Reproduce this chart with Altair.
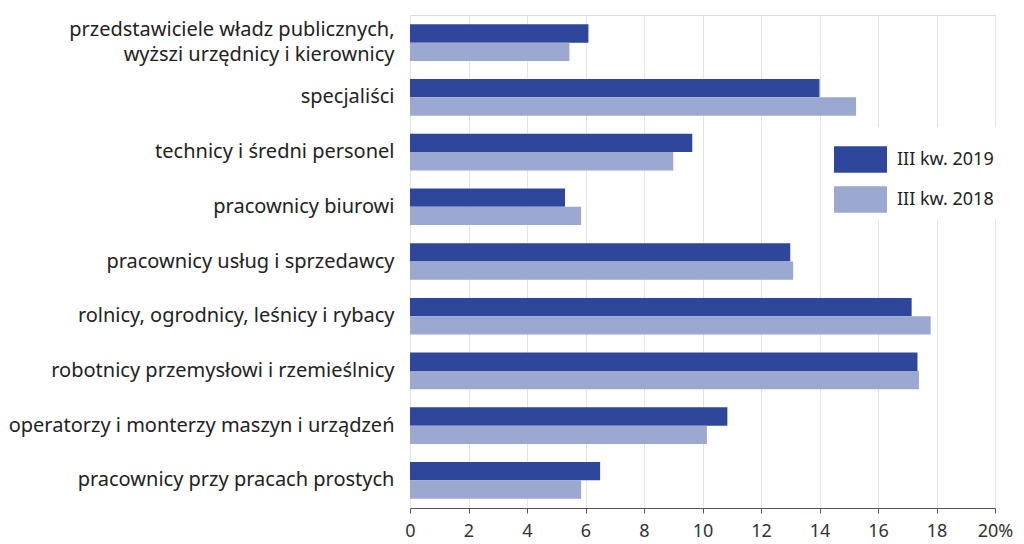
import altair as alt
import pandas as pd

categories = [
    "przedstawiciele władz publicznych,|wyższi urzędnicy i kierownicy",
    "specjaliści",
    "technicy i średni personel",
    "pracownicy biurowi",
    "pracownicy usług i sprzedawcy",
    "rolnicy, ogrodnicy, leśnicy i rybacy",
    "robotnicy przemysłowi i rzemieślnicy",
    "operatorzy i monterzy maszyn i urządzeń",
    "pracownicy przy pracach prostych",
]
series = ["III kw. 2019", "III kw. 2018"]
values_2019 = [6.1, 14.0, 9.65, 5.3, 13.0, 17.15, 17.35, 10.85, 6.5]
values_2018 = [5.45, 15.25, 9.0, 5.85, 13.1, 17.8, 17.4, 10.15, 5.85]
colors = ["#2E479B", "#9BA8CF"]
x_ticks = [0, 2, 4, 6, 8, 10, 12, 14, 16, 18, 20]

rows = []
for c, v in zip(categories, values_2019):
    rows.append({"kat": c, "seria": series[0], "wartosc": v})
for c, v in zip(categories, values_2018):
    rows.append({"kat": c, "seria": series[1], "wartosc": v})
df = pd.DataFrame(rows)

FONT = "Noto Sans"

chart = alt.Chart(df).mark_bar().encode(
    y=alt.Y("kat:N", sort=categories, title=None,
            scale=alt.Scale(paddingInner=0.33, paddingOuter=0.17),
            axis=alt.Axis(domain=False, ticks=False, labelPadding=16,
                          labelExpr="split(datum.label, '|')",
                          labelOffset={"condition": {"test": "indexof(datum.value, '|') >= 0", "value": -12.5},
                                       "value": 0},
                          labelFontSize=20, labelColor="#222222",
                          labelFont=FONT, labelLimit=500, labelLineHeight=25)),
    yOffset=alt.YOffset("seria:N", sort=series,
                        scale=alt.Scale(paddingInner=0, paddingOuter=0)),
    x=alt.X("wartosc:Q", title=None,
            scale=alt.Scale(domain=[0, 20], nice=False),
            axis=alt.Axis(values=x_ticks, grid=True, gridColor="#e4e4e4",
                          domainColor="#555555", tickColor="#555555", tickSize=5,
                          labelFontSize=18, labelColor="#333333", labelFont=FONT,
                          labelPadding=9, labelFlush=False,
                          labelExpr="datum.value == 20 ? '20%' : datum.label")),
    color=alt.Color("seria:N", sort=series,
                    scale=alt.Scale(domain=series, range=colors),
                    legend=alt.Legend(title=None, orient="none", legendX=418, legendY=112,
                                      symbolType="M-1,-0.5H1V0.5H-1Z", symbolSize=2809,
                                      symbolStrokeWidth=0, symbolOpacity=1,
                                      labelFontSize=18, labelFont=FONT, labelColor="#222222",
                                      rowPadding=0, labelOffset=10,
                                      fillColor="white", padding=6)),
).properties(
    width=585, height=493,
    padding={"left": 0, "top": 7, "right": 2, "bottom": 5},
).configure_view(stroke=None).configure(background="white")

chart.save("out.html", embed_options={"renderer": "svg", "actions": False})
